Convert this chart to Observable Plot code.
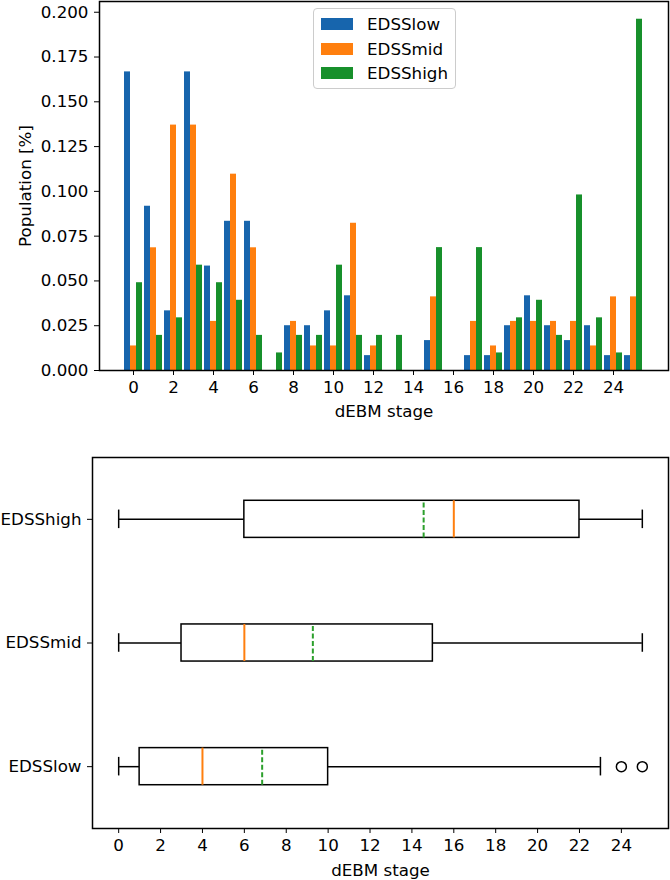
<!DOCTYPE html>
<html>
<head>
<meta charset="utf-8">
<script src="https://cdn.jsdelivr.net/npm/d3@7"></script>
<script src="https://cdn.jsdelivr.net/npm/@observablehq/plot@0.6"></script>
<style>
  body { margin: 0; background: #fff; font-family: "DejaVu Sans", sans-serif; }
  #wrap { position: relative; width: 670px; height: 880px; overflow: hidden; background: #fff; }
  #top { position: absolute; left: 0; top: 0; }
  #bottom { position: absolute; left: 0; top: 430px; }
  .legend { position: absolute; left: 313px; top: 8px; width: 143px; height: 81px; box-sizing: border-box;
            border: 1px solid #cccccc; border-radius: 4px; background: rgba(255,255,255,0.8); font-size: 16.7px; color: #000; }
  .legend .row { position: absolute; left: 0; height: 20px; line-height: 20px; white-space: nowrap; }
  .legend .sw { position: absolute; left: 7px; top: 4px; width: 32px; height: 12px; }
  .legend .lb { position: absolute; left: 53px; top: 0; }
</style>
</head>
<body>
<div id="wrap">
  <div id="top"></div>
  <div id="bottom"></div>
  <div class="legend" id="legend"></div>
</div>
<script>
// ---------- data: top chart ----------
const stages = [0,1,2,3,4,5,6,7,8,9,10,11,12,13,14,15,16,17,18,19,20,21,22,23,24,25];
const seriesNames = ["EDSSlow", "EDSSmid", "EDSShigh"];
const lowValues  = [0.1667,0.0917,0.0333,0.1667,0.0583,0.0833,0.0833,0,0.025,0.025,0.0333,0.0417,0.0083,0,0,0.0167,0,0.0083,0.0083,0.025,0.0417,0.025,0.0167,0.025,0.0083,0.0083];
const midValues  = [0.0137,0.0685,0.137,0.137,0.0274,0.1096,0.0685,0,0.0274,0.0137,0.0137,0.0822,0.0137,0,0,0.0411,0,0.0274,0.0137,0.0274,0.0274,0.0274,0.0274,0.0137,0.0411,0.0411];
const highValues = [0.049,0.0196,0.0294,0.0588,0.049,0.0392,0.0196,0.0098,0.0196,0.0196,0.0588,0.0196,0.0196,0.0196,0,0.0686,0,0.0686,0.0098,0.0294,0.0392,0.0196,0.098,0.0294,0.0098,0.1961];
const barXTicks = [0,2,4,6,8,10,12,14,16,18,20,22,24];
const barYTicks = [0,0.025,0.05,0.075,0.1,0.125,0.15,0.175,0.2];

// ---------- data: box plot ----------
const boxGroups   = ["EDSSlow", "EDSSmid", "EDSShigh"];
const whiskerLow  = [0, 0, 0];
const quartile1   = [1, 3, 6];
const medians     = [4, 6, 16];
const quartile3   = [10, 15, 22];
const whiskerHigh = [23, 25, 25];
const means       = [6.85, 9.27, 14.56];
const outlierGroups = ["EDSSlow", "EDSSlow"];
const outlierValues = [24, 25];
const boxXTicks = [0,2,4,6,8,10,12,14,16,18,20,22,24];

// ---------- styles ----------
const colors = ["#1765ad", "#ff7f0e", "#17902b"];
const FONT = "DejaVu Sans";
const FS = 16.7;
const barW = 0.3;
const offsets = [-0.3, 0, 0.3];

const rows = [];
[lowValues, midValues, highValues].forEach((vals, k) => {
  vals.forEach((v, i) => rows.push({stage: stages[i], series: seriesNames[k], k, value: v}));
});

const TOP_W = 670, TOP_ML = 99, TOP_MR = 2;
const topChart = Plot.plot({
  width: TOP_W, height: 430,
  marginTop: 1, marginBottom: 60, marginLeft: TOP_ML, marginRight: TOP_MR,
  style: {fontFamily: FONT, fontSize: FS + "px", color: "black", background: "white", overflow: "visible"},
  x: {domain: [-1.7, 26.75], ticks: barXTicks, tickFormat: d => String(d), tickSize: 5, tickPadding: 6, label: null},
  y: {domain: [0, 0.206], ticks: barYTicks, tickFormat: d3.format(".3f"), tickSize: 5, tickPadding: 6, label: null},
  color: {domain: seriesNames, range: colors},
  marks: [
    Plot.rect(rows, {
      x1: d => d.stage + offsets[d.k] - barW / 2,
      x2: d => d.stage + offsets[d.k] + barW / 2,
      y1: 0, y2: "value", fill: "series"
    }),
    Plot.frame({stroke: "black", strokeWidth: 1.5}),
    Plot.text(["dEBM stage"], {text: d => d, frameAnchor: "bottom", dy: 41, lineAnchor: "middle", fontSize: FS, fill: "black"}),
    // y-axis title: anchored at the frame centre, moved left to x≈25
    Plot.text(["Population [%]"], {text: d => d, frameAnchor: "middle",
      dx: -((TOP_ML + TOP_W - TOP_MR) / 2 - 25), rotate: -90, lineAnchor: "middle", fontSize: FS, fill: "black"})
  ]
});
document.getElementById("top").appendChild(topChart);

// legend
const legend = document.getElementById("legend");
const rowTops = [5, 30, 54];
seriesNames.forEach((name, i) => {
  const r = document.createElement("div");
  r.className = "row";
  r.style.top = rowTops[i] + "px";
  const sw = document.createElement("div");
  sw.className = "sw";
  sw.style.background = colors[i];
  const lb = document.createElement("div");
  lb.className = "lb";
  lb.textContent = name;
  r.appendChild(sw); r.appendChild(lb);
  legend.appendChild(r);
});

// box plot
const boxes = boxGroups.map((g, i) => ({
  group: g, pos: i + 1,
  lo: whiskerLow[i], q1: quartile1[i], med: medians[i], q3: quartile3[i], hi: whiskerHigh[i], mean: means[i]
}));
const outliers = outlierGroups.map((g, i) => ({group: g, pos: boxGroups.indexOf(g) + 1, value: outlierValues[i]}));
const half = 0.15, cap = 0.075;

const bottomChart = Plot.plot({
  width: 670, height: 450,
  marginTop: 27, marginBottom: 52, marginLeft: 92, marginRight: 2,
  style: {fontFamily: FONT, fontSize: FS + "px", color: "black", background: "white", overflow: "visible"},
  x: {domain: [-1.25, 26.25], ticks: boxXTicks, tickFormat: d => String(d), tickSize: 5, tickPadding: 6, label: null},
  y: {domain: [0.5, 3.5], ticks: [1, 2, 3], tickFormat: d => boxGroups[d - 1], tickSize: 5, tickPadding: 6, label: null},
  marks: [
    Plot.ruleY(boxes, {y: "pos", x1: "lo", x2: "q1", stroke: "black", strokeWidth: 1.5}),
    Plot.ruleY(boxes, {y: "pos", x1: "q3", x2: "hi", stroke: "black", strokeWidth: 1.5}),
    Plot.ruleX(boxes, {x: "lo", y1: d => d.pos - cap, y2: d => d.pos + cap, stroke: "black", strokeWidth: 1.5}),
    Plot.ruleX(boxes, {x: "hi", y1: d => d.pos - cap, y2: d => d.pos + cap, stroke: "black", strokeWidth: 1.5}),
    Plot.rect(boxes, {x1: "q1", x2: "q3", y1: d => d.pos - half, y2: d => d.pos + half, fill: "white", stroke: "black", strokeWidth: 1.5}),
    Plot.ruleX(boxes, {x: "med", y1: d => d.pos - half, y2: d => d.pos + half, stroke: "#ff7f0e", strokeWidth: 2}),
    Plot.ruleX(boxes, {x: "mean", y1: d => d.pos - half, y2: d => d.pos + half, stroke: "#2ca02c", strokeWidth: 2, strokeDasharray: "5,2.5"}),
    Plot.dot(outliers, {x: "value", y: "pos", r: 5, stroke: "black", strokeWidth: 1.5, fill: "none"}),
    Plot.frame({stroke: "black", strokeWidth: 1.5}),
    Plot.text(["dEBM stage"], {text: d => d, frameAnchor: "bottom", dy: 42, lineAnchor: "middle", fontSize: FS, fill: "black"})
  ]
});
document.getElementById("bottom").appendChild(bottomChart);
</script>
</body>
</html>
